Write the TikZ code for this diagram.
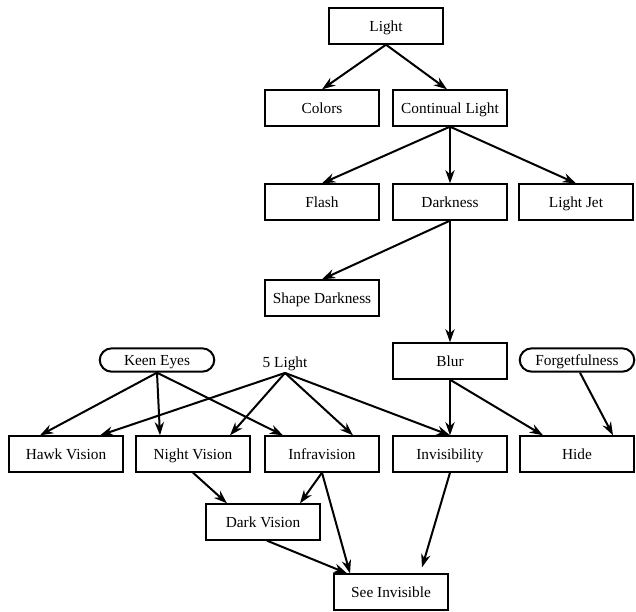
\documentclass[tikz,border=0pt]{standalone}
\usepackage{fontspec}
\setmainfont{Liberation Serif}
\usetikzlibrary{arrows.meta,calc}
\begin{document}
\begin{tikzpicture}[x=0.75pt,y=-0.75pt,
  txt/.style={font=\fontsize{11.5}{13}\selectfont,text height=8pt,text depth=0pt},
  box/.style={txt,draw,line width=1.5pt,minimum width=86pt,minimum height=26.5pt,inner sep=0pt},
  pill/.style={txt,draw,line width=1.5pt,rounded corners=9pt,minimum width=86pt,minimum height=17.5pt,inner sep=0pt},
  plain/.style={txt,text depth=3pt,inner sep=1pt},
  arr/.style={line width=1.5pt,-{Stealth[length=10pt,width=7pt]}}]
\useasboundingbox (0,0) rectangle (636,611);
\node[box] (light) at (386,26) {Light};
\node[box] (colors) at (322,108) {Colors};
\node[box] (cont) at (450,108) {Continual Light};
\node[box] (flash) at (322,202) {Flash};
\node[box] (dark) at (450,202) {Darkness};
\node[box] (jet) at (576,202) {Light Jet};
\node[box] (shape) at (322,298) {Shape Darkness};
\node[box] (blur) at (450,361) {Blur};
\node[pill] (forget) at (577,360) {Forgetfulness};
\node[pill] (keen) at (157,360) {Keen Eyes};
\node[plain] (five) at (285,364) {5 Light};
\node[box] (hawk) at (66,454) {Hawk Vision};
\node[box] (night) at (193,454) {Night Vision};
\node[box] (infra) at (322,454) {Infravision};
\node[box] (invis) at (450,454) {Invisibility};
\node[box] (hide) at (577,454) {Hide};
\node[box] (dvis) at (263,522) {Dark Vision};
\node[box] (see) at (391,592) {See Invisible};

\draw[arr] (light.south) -- (colors.north);
\draw[arr] (light.south) -- ($(cont.north)+(-3,0)$);
\draw[arr] (cont.south) -- (flash.north);
\draw[arr] (cont.south) -- (dark.north);
\draw[arr] (cont.south) -- (jet.north);
\draw[arr] (dark.south) -- (shape.north);
\draw[arr] (dark.south) -- (blur.north);
\draw[arr] (keen.south) -- ($(hawk.north)+(-26,0)$);
\draw[arr] (keen.south) -- ($(night.north)+(-33,0)$);
\draw[arr] (keen.south) -- ($(infra.north)+(-39,0)$);
\draw[arr] (five.south) -- ($(hawk.north)+(34,0)$);
\draw[arr] (five.south) -- ($(night.north)+(37,0)$);
\draw[arr] (five.south) -- ($(infra.north)+(31,0)$);
\draw[arr] (five.south) -- (invis.north);
\draw[arr] (blur.south) -- (invis.north);
\draw[arr] (blur.south) -- ($(hide.north)+(-34,0)$);
\draw[arr] ($(forget.south)+(3,0)$) -- ($(hide.north)+(36,0)$);
\draw[arr] (night.south) -- ($(dvis.north)+(-36,0)$);
\draw[arr] (infra.south) -- ($(dvis.north)+(37,0)$);
\draw[arr] (infra.south) -- ($(see.north)+(-41,0)$);
\draw[arr] ($(dvis.south)+(4,0)$) -- ($(see.north)+(-44,0)$);
\draw[arr] (invis.south) -- ($(see.north)+(31,-6)$);
\end{tikzpicture}
\end{document}
